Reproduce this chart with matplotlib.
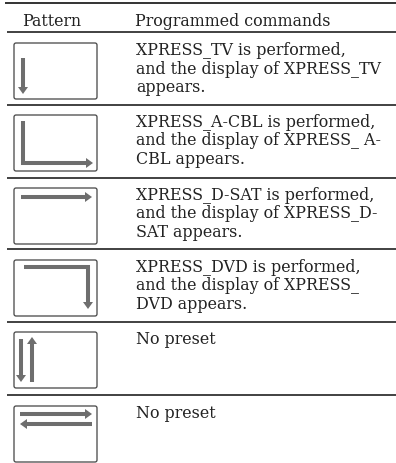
import matplotlib
matplotlib.use('Agg')
import matplotlib.pyplot as plt
from matplotlib.patches import FancyBboxPatch
import numpy as np

headers = ['Pattern', 'Programmed commands']
commands = [
    ['XPRESS_TV is performed,', 'and the display of XPRESS_TV', 'appears.'],
    ['XPRESS_A-CBL is performed,', 'and the display of XPRESS_ A-', 'CBL appears.'],
    ['XPRESS_D-SAT is performed,', 'and the display of XPRESS_D-', 'SAT appears.'],
    ['XPRESS_DVD is performed,', 'and the display of XPRESS_', 'DVD appears.'],
    ['No preset'],
    ['No preset'],
]
# arrow paths inside each pattern box (box-relative pixels, last point = tip)
patterns = [
    [[(9, 15), (9, 51)]],
    [[(9, 6), (9, 48), (79, 48)]],
    [[(7, 9), (78, 9)]],
    [[(10, 7), (74, 7), (74, 49)]],
    [[(7, 7), (7, 50)], [(18, 50), (18, 5)]],
    [[(6, 8), (78, 8)], [(78, 18), (6, 18)]],
]

row_lines = [33, 106, 179, 250, 323, 396]
box_tops = [44, 116, 189, 261, 333, 407]

fig = plt.figure(figsize=(3.96, 4.64), dpi=100)
ax = fig.add_axes([0, 0, 1, 1])
ax.set_xlim(0, 396)
ax.set_ylim(464, 0)
ax.axis('off')

font = dict(family='DejaVu Serif', fontsize=11.4, color='#222222')
arrow_col = '#6e6e6e'

ax.plot([5, 396], [4, 4], color='#333333', lw=1.4, solid_capstyle='butt')
for y in row_lines:
    ax.plot([7, 396], [y, y], color='#333333', lw=1.3, solid_capstyle='butt')

ax.text(22, 26, headers[0], va='baseline', ha='left', **font)
ax.text(135, 26, headers[1], va='baseline', ha='left', **font)


def draw_arrow(pts, x0, y0):
    pts = np.array(pts, dtype=float) + [x0, y0]
    d = pts[-1] - pts[-2]
    d = d / np.hypot(*d)
    n = np.array([-d[1], d[0]])
    head_len, head_w = 7, 5
    base = pts[-1] - d * head_len
    shaft = pts.copy()
    shaft[-1] = base
    ax.plot(shaft[:, 0], shaft[:, 1], color=arrow_col, lw=2.9,
            solid_capstyle='butt', solid_joinstyle='miter')
    tri = np.array([pts[-1], base + n * head_w, base - n * head_w])
    ax.fill(tri[:, 0], tri[:, 1], color=arrow_col, lw=0)


for top, pat, lines in zip(box_tops, patterns, commands):
    box = FancyBboxPatch((14, top), 83, 56, boxstyle='round,pad=0,rounding_size=2',
                         ec='#444444', fc='white', lw=0.9)
    ax.add_patch(box)
    for p in pat:
        draw_arrow(p, 14, top)
    for i, t in enumerate(lines):
        ax.text(136, top + 11 + i * 18.5, t, va='baseline', ha='left', **font)

fig.savefig('out.png', dpi=100)
